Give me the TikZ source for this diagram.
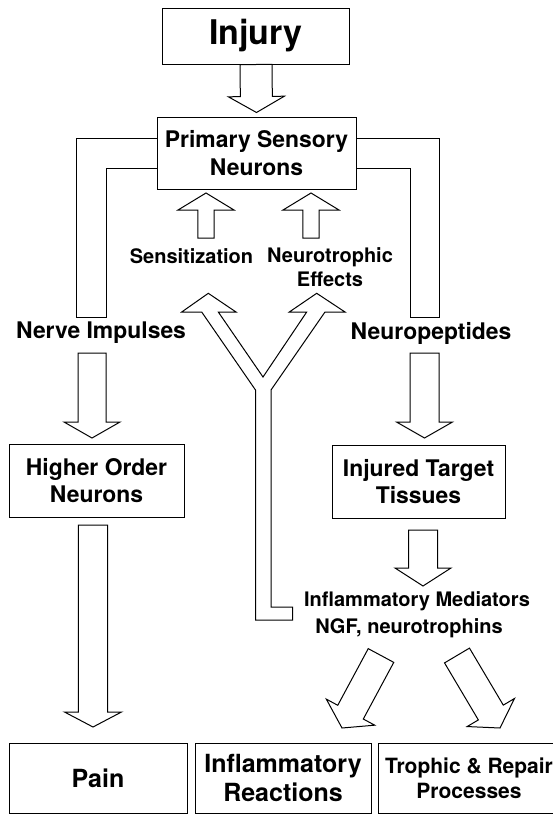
\documentclass[tikz,border=0pt]{standalone}
\usepackage{fontspec}
\setmainfont{TeX Gyre Heros}
\usetikzlibrary{calc}
% hollow block arrow: from, to, half shaft, half head, head length
\newcommand{\blockarrow}[5]{%
  \draw ($(#1)!#3!90:(#2)$) -- ($($(#2)!#5!(#1)$)!#3!90:(#2)$)
    -- ($($(#2)!#5!(#1)$)!#4!90:(#2)$) -- (#2)
    -- ($($(#2)!#5!(#1)$)!#4!-90:(#2)$) -- ($($(#2)!#5!(#1)$)!#3!-90:(#2)$)
    -- ($(#1)!#3!-90:(#2)$) -- cycle;}
\begin{document}
\begin{tikzpicture}[x=1pt,y=-1pt,line width=1pt,
    box/.style={draw,inner sep=0pt,align=center,font=\bfseries\fontsize{22.9}{27.5}\selectfont},
    lbl/.style={inner sep=0pt,align=center,font=\bfseries\fontsize{22.9}{27.5}\selectfont},
    small/.style={font=\bfseries\fontsize{20}{24}\selectfont}]
            \useasboundingbox (0,0) rectangle (553,814);
            \node [box,minimum width=187pt,minimum height=56pt,font=\bfseries\fontsize{34}{40}\selectfont] (inj) at (256,36) {Injury};
            \node [box,minimum width=199pt,minimum height=72pt] (psn) at (256.5,153) {Primary Sensory\\Neurons};
            \node [box,minimum width=175pt,minimum height=73pt] (hon) at (96.5,480.5) {Higher Order\\Neurons};
            \node [box,minimum width=173pt,minimum height=73pt] (itt) at (418.5,481.5) {Injured Target\\Tissues};
            \node [box,minimum width=178pt,minimum height=70pt,font=\bfseries\fontsize{25}{29}\selectfont] (pain) at (98,778) {Pain};
            \node [box,minimum width=176pt,minimum height=70pt,font=\bfseries\fontsize{25}{29}\selectfont] (infl) at (283,778) {Inflammatory\\Reactions};
            \node [box,minimum width=182pt,minimum height=70pt,font=\bfseries\fontsize{21}{25}\selectfont] (troph) at (469,778) {Trophic \& Repair\\Processes};
            \node [lbl] (nimp) at (101,333) {Nerve Impulses};
            \node [lbl] (npep) at (431,333) {Neuropeptides};
            \node [lbl,small] (sens) at (191.5,256) {Sensitization};
            \node [lbl,small] (ntro) at (330,267) {Neurotrophic\\Effects};
            \node [lbl,small] (med) at (417,601) {Inflammatory Mediators};
            \node [lbl,small] (ngf) at (409,628) {NGF, neurotrophins};
            % the two side pipes
            \draw (psn.west |- 0,138) -- (76,138) -- (76,317) -- (106,317) -- (106,168) -- (psn.west |- 0,168);
            \draw (psn.east |- 0,138) -- (439,138) -- (439,317) -- (410,317) -- (410,168) -- (psn.east |- 0,168);
            % the Y
            \draw (208.3,293.3) -- (236,312) -- (218.3,312) -- (263,377) -- (306.7,312) -- (289.3,312) -- (316.7,293.3)
                -- (345,312) -- (325,312) -- (271,390) -- (271,607) -- (292.6,607) -- (292.6,620) -- (255.5,620)
                -- (255.5,390) -- (201.7,312) -- (181.7,312) -- cycle;
            \coordinate (t1) at ([yshift=4pt]psn.north);
            \coordinate (n0) at (92,353);    \coordinate (n1) at (92,438);
            \coordinate (p0) at (424.5,353); \coordinate (p1) at (424.5,438);
            \coordinate (h0) at (93,525);    \coordinate (h1) at (93,727);
            \coordinate (i0) at (423,530);   \coordinate (i1) at (423,586);
            \coordinate (s0) at (206,238);   \coordinate (s1) at (206,193);
            \coordinate (e0) at (311,238);   \coordinate (e1) at (311,193);
            \coordinate (m0) at (381,655.5); \coordinate (m1) at (342,728);
            \coordinate (r0) at (457,655.5); \coordinate (r1) at (500,728);
            \blockarrow{inj.south}{t1}{16pt}{28pt}{16pt}
            \blockarrow{n0}{n1}{14pt}{28pt}{16pt}
            \blockarrow{p0}{p1}{14.5pt}{28pt}{16pt}
            \blockarrow{h0}{h1}{14.7pt}{28.5pt}{15pt}
            \blockarrow{i0}{i1}{14.5pt}{28pt}{18pt}
            \blockarrow{s0}{s1}{8.2pt}{28pt}{17pt}
            \blockarrow{e0}{e1}{8.2pt}{28pt}{17pt}
            \blockarrow{m0}{m1}{14.5pt}{27.5pt}{18pt}
            \blockarrow{r0}{r1}{14.5pt}{27.5pt}{18pt}
        \end{tikzpicture}
\end{document}
